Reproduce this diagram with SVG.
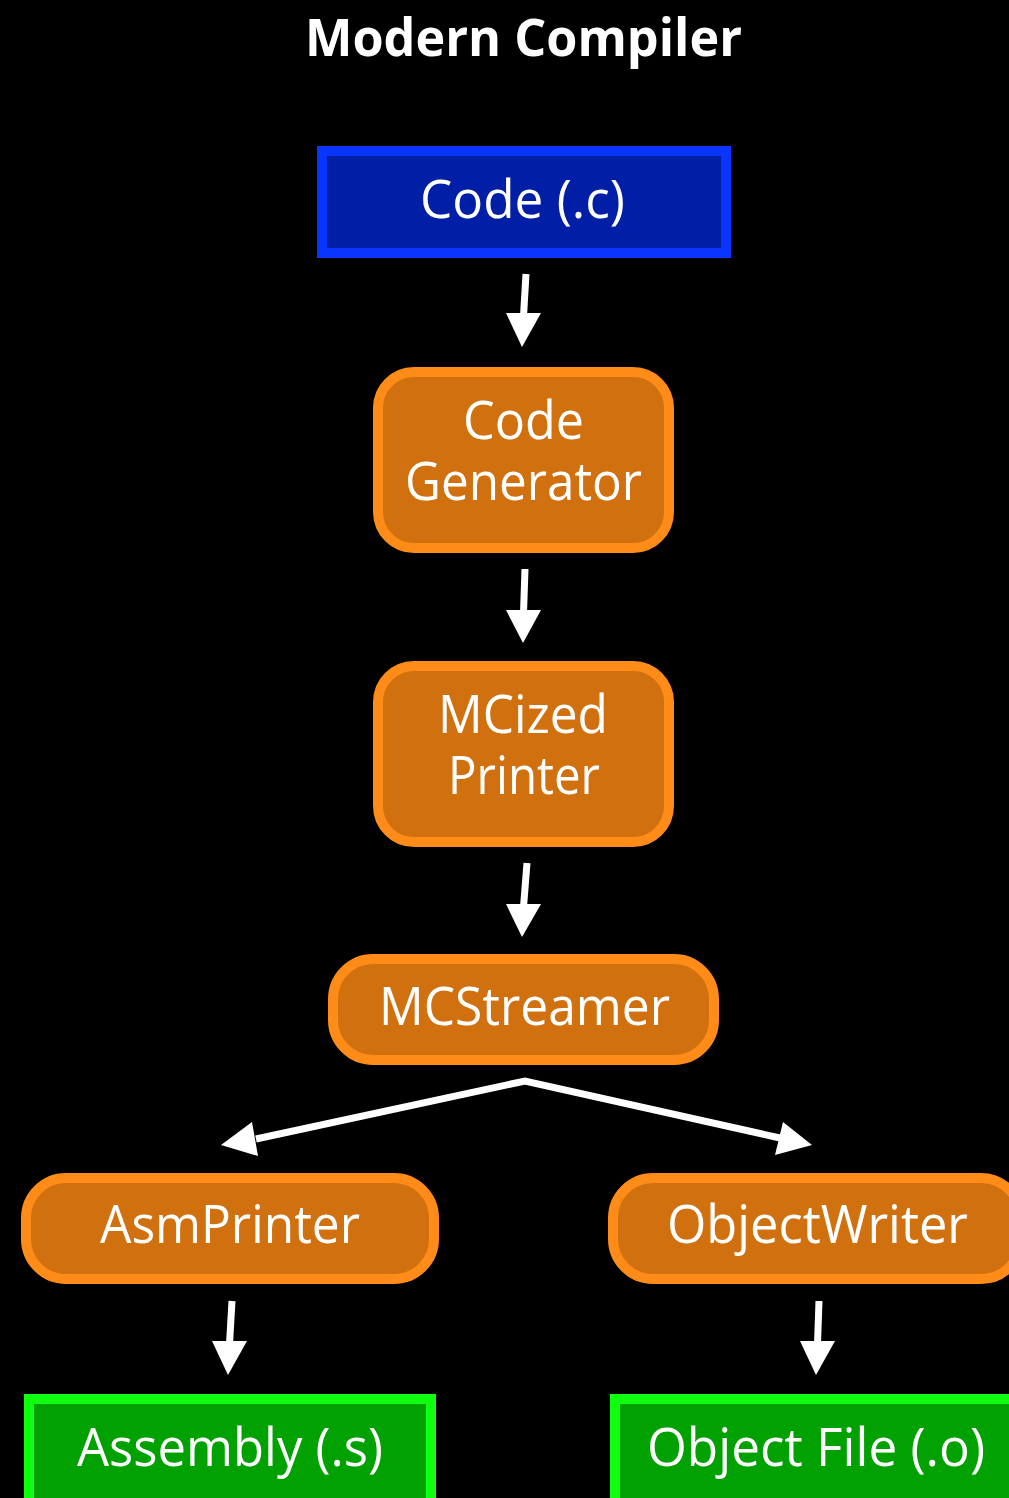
<svg xmlns="http://www.w3.org/2000/svg" width="1009" height="1498" viewBox="0 0 1009 1498">
<style>
.lbl{font-family:"Open Sans","Noto Sans","Liberation Sans",sans-serif;font-size:53px;fill:#ffffff;text-anchor:middle}
.title{font-family:"Open Sans","Noto Sans","Liberation Sans",sans-serif;font-size:52px;font-weight:bold;fill:#ffffff;text-anchor:middle}
.blue{fill:#001ea6;stroke:#0a35ff;stroke-width:10}
.orange{fill:#d0700f;stroke:#ff8c18;stroke-width:10}
.green{fill:#00a100;stroke:#10ff10;stroke-width:10}
.shaft{stroke:#ffffff;stroke-width:7;fill:none}
.head{fill:#ffffff}
</style>
<rect x="0" y="0" width="1009" height="1498" fill="#000000"/>
<text class="title" x="523.5" y="56" textLength="437" lengthAdjust="spacingAndGlyphs">Modern Compiler</text>

<g id="code-c">
<rect class="blue" x="322" y="151" width="404" height="102"/>
<text class="lbl" x="522.5" y="218" textLength="205" lengthAdjust="spacingAndGlyphs">Code (.c)</text>
</g>
<g id="code-generator">
<rect class="orange" x="378" y="372" width="291" height="176" rx="36" ry="36"/>
<text class="lbl" x="523.5" y="439" textLength="121" lengthAdjust="spacingAndGlyphs">Code</text>
<text class="lbl" x="523.5" y="500" textLength="237" lengthAdjust="spacingAndGlyphs">Generator</text>
</g>
<g id="mcized-printer">
<rect class="orange" x="378" y="666" width="291" height="176" rx="36" ry="36"/>
<text class="lbl" x="523" y="733" textLength="170" lengthAdjust="spacingAndGlyphs">MCized</text>
<text class="lbl" x="524" y="794" textLength="152" lengthAdjust="spacingAndGlyphs">Printer</text>
</g>
<g id="mcstreamer">
<rect class="orange" x="333" y="959" width="381" height="101" rx="40" ry="40"/>
<text class="lbl" x="524.5" y="1025" textLength="291" lengthAdjust="spacingAndGlyphs">MCStreamer</text>
</g>
<g id="asmprinter">
<rect class="orange" x="26" y="1178" width="408" height="101" rx="40" ry="40"/>
<text class="lbl" x="230" y="1243" textLength="260" lengthAdjust="spacingAndGlyphs">AsmPrinter</text>
</g>
<g id="objectwriter">
<rect class="orange" x="613" y="1178" width="408" height="101" rx="40" ry="40"/>
<text class="lbl" x="817.5" y="1243" textLength="301" lengthAdjust="spacingAndGlyphs">ObjectWriter</text>
</g>
<g id="assembly-s">
<rect class="green" x="29" y="1399" width="402" height="120"/>
<text class="lbl" x="230" y="1466" textLength="306" lengthAdjust="spacingAndGlyphs">Assembly (.s)</text>
</g>
<g id="object-file-o">
<rect class="green" x="615" y="1399" width="402" height="120"/>
<text class="lbl" x="816" y="1466" textLength="338" lengthAdjust="spacingAndGlyphs">Object File (.o)</text>
</g>

<g id="connectors">
<line class="shaft" x1="526" y1="274" x2="523.5" y2="316"/>
<polygon class="head" points="506,313 541,313 522,347"/>
<line class="shaft" x1="525" y1="569" x2="523.5" y2="613"/>
<polygon class="head" points="506,610 541,610 523,643"/>
<line class="shaft" x1="527" y1="863" x2="523.5" y2="907"/>
<polygon class="head" points="506,904 541,904 522,937"/>
<line class="shaft" x1="232" y1="1301" x2="229.5" y2="1344"/>
<polygon class="head" points="212,1341 247,1341 228,1375"/>
<line class="shaft" x1="819" y1="1301" x2="817.5" y2="1344"/>
<polygon class="head" points="800,1341 835,1341 816,1375"/>
<polyline class="shaft" points="256,1139 525,1081 780,1138" stroke-linejoin="miter"/>
<polygon class="head" points="252,1122 258,1156 221,1145"/>
<polygon class="head" points="783,1122 775,1155 812,1145"/>
</g>
</svg>
